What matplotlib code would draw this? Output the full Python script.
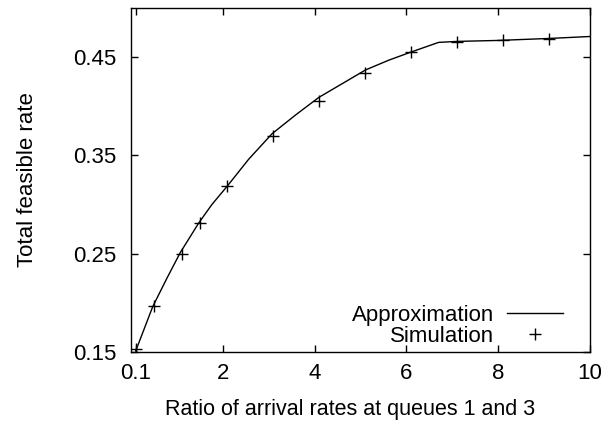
import matplotlib
matplotlib.use("Agg")
import matplotlib.pyplot as plt

# approximation curve
approx_x = [0.1, 0.47, 0.78, 1.07, 1.47, 1.76, 2.1, 2.56, 3.07, 3.58, 4.09,
            4.6, 5.11, 5.62, 6.09, 6.7, 7.1, 8.0, 9.1, 10.0]
approx_y = [0.151, 0.196, 0.225, 0.251, 0.281, 0.300, 0.319, 0.346, 0.372,
            0.391, 0.409, 0.423, 0.437, 0.447, 0.455, 0.465, 0.466, 0.467,
            0.469, 0.471]

# simulation points
sim_x = [0.1, 0.5, 1.1, 1.5, 2.1, 3.1, 4.1, 5.1, 6.1, 7.1, 8.1, 9.1]
sim_y = [0.153, 0.197, 0.250, 0.281, 0.319, 0.370, 0.405, 0.434, 0.455,
         0.465, 0.467, 0.468]

x_ticks = [0.1, 2, 4, 6, 8, 10]
x_ticklabels = ["0.1", "2", "4", "6", "8", "10"]
y_ticks = [0.15, 0.25, 0.35, 0.45]
y_ticklabels = ["0.15", "0.25", "0.35", "0.45"]

plt.rcParams['font.family'] = ['Liberation Sans', 'DejaVu Sans']
plt.rcParams['font.size'] = 16

fig = plt.figure(figsize=(6.07, 4.21), dpi=100)
ax = fig.add_axes([0.216, 0.164, 0.756, 0.817])

ax.plot(approx_x, approx_y, color='black', lw=1.0, label='Approximation')
ax.plot(sim_x, sim_y, ls='none', marker='+', ms=8, mew=1.0, color='black',
        label='Simulation')

ax.set_xlim(0, 10)
ax.set_ylim(0.15, 0.50)
ax.set_xticks(x_ticks)
ax.set_xticklabels(x_ticklabels)
ax.set_yticks(y_ticks)
ax.set_yticklabels(y_ticklabels)
ax.tick_params(direction='in', length=5, width=1, top=True, right=True,
               labelsize=16)
ax.tick_params(axis='x', pad=8)
ax.tick_params(axis='y', pad=10.5)
for s in ax.spines.values():
    s.set_linewidth(1)

ax.set_xlabel("Ratio of arrival rates at queues 1 and 3", fontsize=15.5, labelpad=11)
ax.xaxis.label.set_x(0.478)
ax.set_ylabel("Total feasible rate", fontsize=16, labelpad=25)

ax.legend(loc='lower right', markerfirst=False, frameon=False, fontsize=16,
          handlelength=2.5, handletextpad=0.6, labelspacing=0.0,
          borderaxespad=0.0, bbox_to_anchor=(0.96, -0.01))

fig.savefig("out.png", dpi=100)
